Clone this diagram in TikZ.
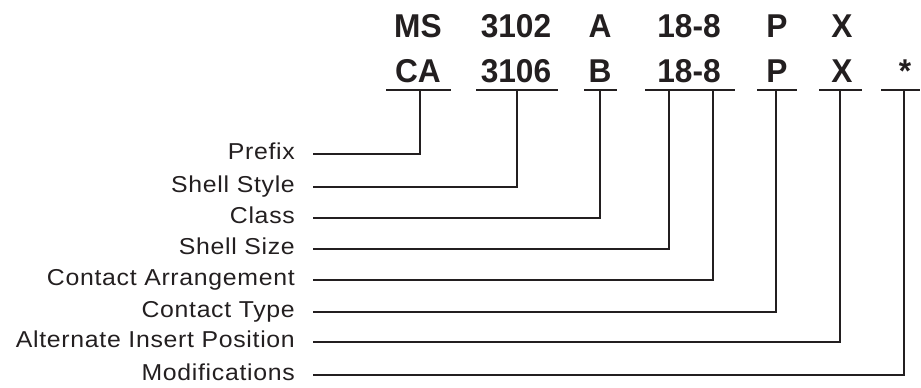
\documentclass[tikz,border=0pt]{standalone}
\usepackage{fontspec}
\setmainfont{Liberation Sans}
\newfontfamily\codefont[FakeStretch=0.96]{Liberation Sans}
\newfontfamily\labfont[FakeStretch=1.08,LetterSpace=3]{Liberation Sans}
\definecolor{ink}{HTML}{231F20}
\begin{document}
\begin{tikzpicture}[x=1pt,y=-1pt,
  code/.style={font=\codefont\bfseries\fontsize{33}{33}\selectfont, text=ink, anchor=base, inner sep=0pt},
  lab/.style={font=\labfont\fontsize{23}{23}\selectfont, text=ink, anchor=base east, inner sep=0pt},
  wire/.style={line width=1.6pt, line join=miter, color=ink}]
\useasboundingbox (0,0) rectangle (921,388);
% code rows
\node[code] (ms)   at (418,37) {MS};
\node[code] (s3102) at (516,37) {3102};
\node[code] (a)    at (600,37) {A};
\node[code] (sz1)  at (689,37) {18-8};
\node[code] (p1)   at (777,37) {P};
\node[code] (x1)   at (842,37) {X};
\node[code] (ca)   at (418,82) {CA};
\node[code] (s3106) at (516,82) {3106};
\node[code] (b)    at (600,82) {B};
\node[code] (sz2)  at (689,82) {18-8};
\node[code] (p2)   at (777,82) {P};
\node[code] (x2)   at (842,82) {X};
\node[code] (ast)  at (905,82) {*};
% underlines
\draw[wire] (386,90) -- (451,90);
\draw[wire] (476,90) -- (558,90);
\draw[wire] (584,90) -- (617,90);
\draw[wire] (645,90) -- (735,90);
\draw[wire] (757,90) -- (797,90);
\draw[wire] (819,90) -- (862,90);
\draw[wire] (881,90) -- (920,90);
% tap points
\coordinate (t1) at (420,90);
\coordinate (t2) at (517,90);
\coordinate (t3) at (600,90);
\coordinate (t4) at (669,90);
\coordinate (t5) at (713,90);
\coordinate (t6) at (776,90);
\coordinate (t7) at (840,90);
\coordinate (t8) at (904,90);
% labels
\node[lab] (l1) at (295,159) {Prefix};
\node[lab] (l2) at (295,192) {Shell Style};
\node[lab] (l3) at (295,223) {Class};
\node[lab] (l4) at (295,254) {Shell Size};
\node[lab] (l5) at (295,285) {Contact Arrangement};
\node[lab] (l6) at (295,317) {Contact Type};
\node[lab] (l7) at (295,347) {Alternate Insert Position};
\node[lab] (l8) at (295,380) {Modifications};
% line starts
\coordinate (s1) at (313,154);
\coordinate (s2) at (313,187);
\coordinate (s3) at (313,218);
\coordinate (s4) at (313,249);
\coordinate (s5) at (313,280);
\coordinate (s6) at (313,312);
\coordinate (s7) at (313,342);
\coordinate (s8) at (313,375);
% connectors
\foreach \i in {1,...,8} {\draw[wire] (s\i) -| (t\i);}
\end{tikzpicture}
\end{document}
